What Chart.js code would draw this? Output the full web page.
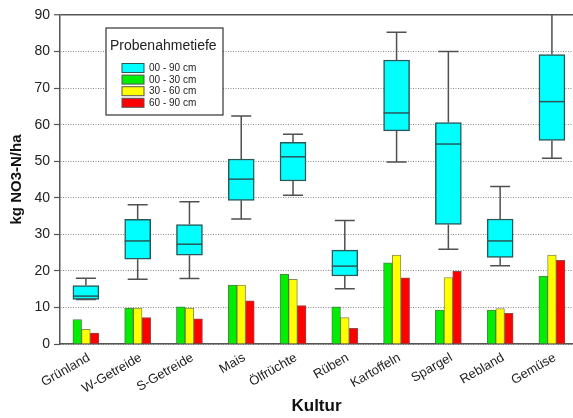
<!DOCTYPE html>
<html>
<head>
<meta charset="utf-8">
<script src="https://cdn.jsdelivr.net/npm/chart.js@4/dist/chart.umd.min.js"></script>
<style>
html,body{margin:0;padding:0;background:#fff;}
#wrap{width:573px;height:418px;}
</style>
</head>
<body>
<div id="wrap"><canvas id="c" width="573" height="418"></canvas></div>
<script>
const categories = ['Grünland','W-Getreide','S-Getreide','Mais','Ölfrüchte','Rüben','Kartoffeln','Spargel','Rebland','Gemüse'];
// Box plot 00 - 90 cm
const q1 = [12.2, 23.2, 24.3, 39.3, 44.6, 18.6, 58.3, 32.7, 23.7, 55.7];
const q3 = [16.0, 34.1, 32.7, 50.6, 55.2, 25.7, 77.7, 60.6, 34.2, 79.2];
const median = [13.1, 28.2, 27.3, 45.1, 51.2, 21.3, 63.2, 54.7, 28.2, 66.3];
const whiskerLow = [12.2, 17.7, 17.9, 34.2, 40.7, 15.1, 49.8, 25.9, 21.4, 50.8];
const whiskerHigh = [18.0, 38.1, 38.9, 62.4, 57.4, 33.8, 85.3, 80.0, 43.1, 92.0];
// Bars per depth
const depth0_30 = [6.7, 9.8, 10.2, 16.1, 19.1, 10.2, 22.2, 9.3, 9.3, 18.6];
const depth30_60 = [4.0, 9.8, 9.8, 16.1, 17.7, 7.2, 24.3, 18.2, 9.7, 24.3];
const depth60_90 = [3.0, 7.2, 6.9, 11.8, 10.5, 4.3, 18.1, 19.9, 8.4, 22.9];
const seriesLabels = ['00 - 90 cm','00 - 30 cm','30 - 60 cm','60 - 90 cm'];
const yTicks = [0,10,20,30,40,50,60,70,80,90];

const FONT = "'Liberation Sans', Arial, sans-serif";
const colors = ['#00FFFF','#00EE00','#FFFF00','#FF0000'];
const boxBorder = '#2a5858';

const boxPlugin = {
  id: 'boxparts',
  afterDatasetsDraw(chart) {
    const {ctx, chartArea, scales: {x, y}} = chart;
    const meta = chart.getDatasetMeta(0);
    ctx.save();
    ctx.beginPath();
    ctx.rect(chartArea.left, chartArea.top - 1, chartArea.width, chartArea.height + 1);
    ctx.clip();
    ctx.lineWidth = 1.5;
    meta.data.forEach((el, i) => {
      const cx = el.x;
      const half = el.width / 2;
      const capHalf = 10;
      const yq1 = y.getPixelForValue(q1[i]);
      const yq3 = y.getPixelForValue(q3[i]);
      const ylo = y.getPixelForValue(whiskerLow[i]);
      const yhi = y.getPixelForValue(whiskerHigh[i]);
      const ym = y.getPixelForValue(median[i]);
      ctx.strokeStyle = '#505050';
      ctx.beginPath();
      ctx.moveTo(cx, yq3); ctx.lineTo(cx, yhi);
      ctx.moveTo(cx - capHalf, yhi); ctx.lineTo(cx + capHalf, yhi);
      ctx.moveTo(cx, yq1); ctx.lineTo(cx, ylo);
      ctx.moveTo(cx - capHalf, ylo); ctx.lineTo(cx + capHalf, ylo);
      ctx.stroke();
      ctx.strokeStyle = boxBorder;
      ctx.beginPath();
      ctx.moveTo(cx - half, ym); ctx.lineTo(cx + half, ym);
      ctx.stroke();
    });
    ctx.restore();
  }
};

const legendPlugin = {
  id: 'innerLegend',
  afterDraw(chart) {
    const ctx = chart.ctx;
    const lx = 106, ly = 28, lw = 117, lh = 87;
    ctx.save();
    ctx.fillStyle = '#fff';
    ctx.fillRect(lx, ly, lw, lh);
    ctx.strokeStyle = '#333';
    ctx.lineWidth = 1.2;
    ctx.strokeRect(lx, ly, lw, lh);
    ctx.fillStyle = '#222';
    ctx.font = '14px ' + FONT;
    ctx.textBaseline = 'alphabetic';
    ctx.textAlign = 'left';
    ctx.fillText('Probenahmetiefe', 110, 50);
    ctx.font = '10px ' + FONT;
    ctx.textBaseline = 'middle';
    seriesLabels.forEach((lab, i) => {
      const cy = 68 + i * 11.6;
      ctx.fillStyle = colors[i];
      ctx.fillRect(122, cy - 4.5, 22, 9);
      ctx.strokeStyle = i === 0 ? boxBorder : '#555';
      ctx.lineWidth = 1;
      ctx.strokeRect(122, cy - 4.5, 22, 9);
      ctx.fillStyle = '#222';
      ctx.fillText(lab, 149, cy + 0.5);
    });
    ctx.restore();
  }
};

const xy = arr => arr.map((v, i) => ({x: i, y: v}));

new Chart(document.getElementById('c'), {
  type: 'bar',
  data: {
    datasets: [
      {
        label: seriesLabels[0],
        data: categories.map((c, i) => ({x: i, y: [q1[i], q3[i]]})),
        backgroundColor: colors[0],
        borderColor: boxBorder,
        borderWidth: 1.5,
        borderSkipped: false,
        grouped: false,
        categoryPercentage: 1,
        barPercentage: 1,
        maxBarThickness: 26
      },
      {label: seriesLabels[1], data: xy(depth0_30), backgroundColor: colors[1], borderColor: 'rgba(40,90,40,0.8)', borderWidth: 1, barThickness: 8.67},
      {label: seriesLabels[2], data: xy(depth30_60), backgroundColor: colors[2], borderColor: 'rgba(110,110,40,0.8)', borderWidth: 1, barThickness: 8.67},
      {label: seriesLabels[3], data: xy(depth60_90), backgroundColor: colors[3], borderColor: 'rgba(120,30,30,0.8)', borderWidth: 1, barThickness: 8.67}
    ]
  },
  options: {
    responsive: false,
    animation: false,
    layout: {padding: {top: 15, right: 0, bottom: 0, left: 0}},
    plugins: {legend: {display: false}, tooltip: {enabled: false}},
    scales: {
      x: {
        type: 'linear',
        offset: false,
        min: -0.5,
        max: 9.407,
        afterBuildTicks: s => { s.ticks = categories.map((c, i) => ({value: i})); },
        afterFit: s => { s.height = 74; },
        grid: {display: false, drawTicks: false, offset: false},
        border: {display: true, color: '#555', width: 1.5},
        ticks: {
          autoSkip: false,
          minRotation: 30,
          maxRotation: 30,
          padding: 6,
          labelOffset: 3,
          color: '#222',
          font: {family: FONT, size: 13},
          callback: v => categories[v] !== undefined ? categories[v] : ''
        },
        title: {display: true, text: 'Kultur', color: '#111', font: {family: FONT, size: 17, weight: 'bold'}, padding: {top: 0, bottom: 1}}
      },
      y: {
        min: 0,
        max: 90,
        afterBuildTicks: s => { s.ticks = yTicks.map(v => ({value: v})); },
        afterFit: s => { s.width = 60; },
        grid: {
          color: c => (c.tick && c.tick.value === 90) ? '#555' : '#8a8a8a',
          lineWidth: c => (c.tick && c.tick.value === 90) ? 1.5 : 1,
          tickColor: '#555',
          tickLength: 6,
          tickWidth: 1.2,
          tickBorderDash: []
        },
        border: {display: true, color: '#555', width: 1.5, dash: c => (c.tick && c.tick.value !== 90) ? [1, 1.5] : []},
        ticks: {padding: 4, color: '#222', font: {family: FONT, size: 14}},
        title: {display: true, text: 'kg NO3-N/ha', color: '#111', font: {family: FONT, size: 15, weight: 'bold'}, padding: {top: 8, bottom: 0}}
      }
    }
  },
  plugins: [boxPlugin, legendPlugin]
});
</script>
</body>
</html>
